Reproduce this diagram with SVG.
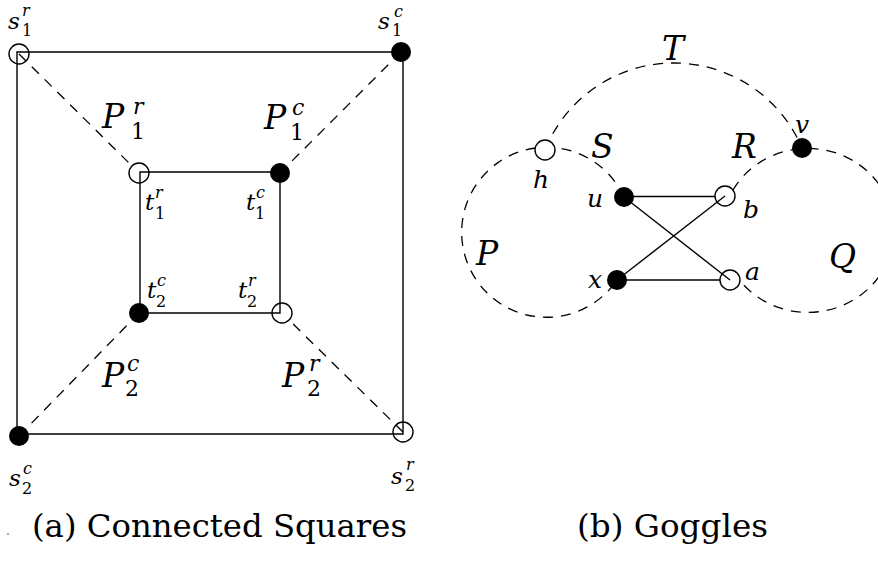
<svg xmlns="http://www.w3.org/2000/svg" width="878" height="561" viewBox="0 0 878 561">
<style>
.solid{stroke:#000;stroke-width:1.4;fill:none}
.dash{stroke:#000;stroke-width:1.3;fill:none;stroke-dasharray:10 8}
.open{fill:none;stroke:#000;stroke-width:1.4}
.openw{fill:#fff;stroke:#000;stroke-width:1.4}
.filled{fill:#000}
text{font-family:'DejaVu Serif','Liberation Serif',serif;fill:#000}
.it{font-style:italic}
.big{font-size:33px}
.mid{font-size:22px}
.sm{font-size:23px}
.xs{font-size:16px}
.gl{font-size:25px}
.cap{font-size:32px}
</style>
<rect width="878" height="561" fill="#fff"/>
<g id="connectors">
  <path class="solid" d="M17 52 H403 V434 H17 Z"/>
  <path class="solid" d="M140 172 H280 V313 H140 Z"/>
  <line class="dash" x1="19" y1="54" x2="132" y2="166"/>
  <line class="dash" x1="401" y1="52" x2="280" y2="173"/>
  <line class="dash" x1="19" y1="436" x2="139" y2="313"/>
  <line class="dash" x1="403" y1="432" x2="289" y2="320"/>
  <path class="dash" d="M545 150 A139 139 0 0 1 802 148"/>
  <path class="dash" d="M624 197 A85 85 0 1 0 617 280"/>
  <path class="dash" d="M733 190 A86 82 0 1 1 741 282"/>
  <line class="solid" x1="624" y1="196.5" x2="715" y2="196.5"/>
  <line class="solid" x1="617" y1="280" x2="720" y2="280"/>
  <line class="solid" x1="624" y1="197" x2="730" y2="280"/>
  <line class="solid" x1="617" y1="280" x2="725" y2="196"/>
</g>
<g id="s1r"><circle class="open" cx="19" cy="54" r="10"/>
  <text class="it sm" x="8" y="29">s</text><text class="it xs" x="22" y="16">r</text><text class="xs" x="22" y="36">1</text></g>
<g id="s1c"><circle class="filled" cx="401" cy="52" r="10"/>
  <text class="it sm" x="378" y="29">s</text><text class="it xs" x="394" y="17">c</text><text class="xs" x="392" y="36">1</text></g>
<g id="s2c"><circle class="filled" cx="19" cy="436" r="10"/>
  <text class="it sm" x="9" y="486">s</text><text class="it xs" x="23" y="474">c</text><text class="xs" x="22" y="494">2</text></g>
<g id="s2r"><circle class="open" cx="403" cy="432" r="10"/>
  <text class="it sm" x="391" y="484">s</text><text class="it xs" x="406" y="470">r</text><text class="xs" x="405" y="491">2</text></g>
<g id="t1r"><circle class="open" cx="139" cy="173" r="10"/>
  <text class="it sm" x="145" y="210">t</text><text class="it xs" x="155" y="198">r</text><text class="xs" x="155" y="219">1</text></g>
<g id="t1c"><circle class="filled" cx="280" cy="173" r="10"/>
  <text class="it sm" x="246" y="210">t</text><text class="it xs" x="256" y="198">c</text><text class="xs" x="255" y="219">1</text></g>
<g id="t2c"><circle class="filled" cx="139" cy="313" r="10"/>
  <text class="it sm" x="147" y="298">t</text><text class="it xs" x="157" y="286">c</text><text class="xs" x="156" y="307">2</text></g>
<g id="t2r"><circle class="open" cx="282" cy="313" r="10"/>
  <text class="it sm" x="238" y="298">t</text><text class="it xs" x="248" y="286">r</text><text class="xs" x="247" y="307">2</text></g>
<g id="P1r"><text class="it big" x="102" y="128">P</text><text class="it mid" x="133" y="114">r</text><text class="mid" x="131" y="139">1</text></g>
<g id="P1c"><text class="it big" x="264" y="129">P</text><text class="it mid" x="292" y="115">c</text><text class="mid" x="290" y="140">1</text></g>
<g id="P2c"><text class="it big" x="102" y="387">P</text><text class="it mid" x="127" y="371">c</text><text class="mid" x="125" y="396">2</text></g>
<g id="P2r"><text class="it big" x="282" y="387">P</text><text class="it mid" x="309" y="371">r</text><text class="mid" x="307" y="396">2</text></g>
<g id="h"><circle class="openw" cx="545" cy="150" r="10"/><text class="it gl" x="533" y="188">h</text></g>
<g id="v"><circle class="filled" cx="802" cy="148" r="10"/><text class="it gl" x="795" y="133">v</text></g>
<g id="u"><circle class="filled" cx="624" cy="197" r="10"/><text class="it gl" x="587" y="207">u</text></g>
<g id="x"><circle class="filled" cx="617" cy="280" r="10"/><text class="it gl" x="588" y="288">x</text></g>
<g id="b"><circle class="open" cx="725" cy="196" r="10"/><text class="it gl" x="743" y="218">b</text></g>
<g id="a"><circle class="open" cx="730" cy="280" r="10"/><text class="it gl" x="745" y="280">a</text></g>
<g id="labels">
  <text class="it big" x="662" y="60">T</text>
  <text class="it big" x="591" y="158">S</text>
  <text class="it big" x="732" y="158">R</text>
  <text class="it big" x="476" y="265">P</text>
  <text class="it big" x="829" y="268">Q</text>
</g>
<g id="captions">
  <circle cx="8" cy="534" r="1" fill="#888"/>
  <text class="cap" x="32" y="537" textLength="375" lengthAdjust="spacingAndGlyphs">(a) Connected Squares</text>
  <text class="cap" x="577" y="537" textLength="191" lengthAdjust="spacingAndGlyphs">(b) Goggles</text>
</g>
</svg>
